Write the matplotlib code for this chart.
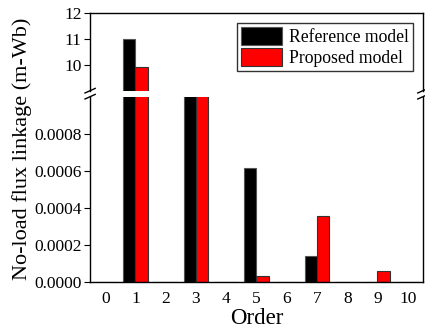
import matplotlib.pyplot as plt
import numpy as np

plt.rcParams['font.family'] = ['Liberation Serif', 'DejaVu Serif']

# harmonic orders and no-load flux linkage (m-Wb)
orders = [0, 1, 2, 3, 4, 5, 6, 7, 8, 9, 10]
reference = [0.0, 11.0, 0.0, 0.0015, 0.0, 0.000617, 0.0, 0.00014, 0.0, 0.000003, 0.0]
proposed = [0.0, 9.9, 0.0, 0.0015, 0.0, 0.000034, 0.0, 0.000356, 0.0, 0.000062, 0.0]
legend_labels = ['Reference model', 'Proposed model']

fig = plt.figure(figsize=(4.25, 3.28), dpi=100)
ax_top = fig.add_axes([0.212, 0.7235, 0.783, 0.236])
ax_bot = fig.add_axes([0.212, 0.1393, 0.783, 0.5659])

x = np.array(orders)
w = 0.4
for ax in (ax_top, ax_bot):
    ax.bar(x - w / 2, reference, w, color='black', edgecolor='#555555', linewidth=0.8,
           label=legend_labels[0])
    ax.bar(x + w / 2, proposed, w, color='red', edgecolor='#333333', linewidth=0.8,
           label=legend_labels[1])
    ax.set_xlim(-0.5, 10.5)
    for s in ax.spines.values():
        s.set_linewidth(1.0)

# upper part of the broken axis
ax_top.set_ylim(9.0, 12.0)
ax_top.set_yticks([10, 11, 12])
ax_top.spines['bottom'].set_visible(False)
ax_top.tick_params(axis='x', bottom=False, labelbottom=False)
ax_top.tick_params(axis='y', direction='out', length=4, pad=2, labelsize=12.5)

# lower part
ax_bot.set_ylim(0, 0.001)
ax_bot.set_yticks([0, 0.0002, 0.0004, 0.0006, 0.0008])
ax_bot.set_yticklabels(['0.0000', '0.0002', '0.0004', '0.0006', '0.0008'])
ax_bot.spines['top'].set_visible(False)
ax_bot.set_xticks(orders)
ax_bot.tick_params(axis='x', length=0, labelsize=12.5, pad=6)
ax_bot.tick_params(axis='y', direction='out', length=4, pad=2, labelsize=12.5)
ax_bot.set_xlabel('Order', fontsize=16.5, labelpad=1)

fig.text(0.053, 0.545, 'No-load flux linkage (m-Wb)', rotation=90,
         ha='center', va='center', fontsize=16)

# break marks on both spines
for xf in (0.212, 0.995):
    for yf in (0.7235, 0.7052):
        fig.add_artist(plt.Line2D([xf - 0.012, xf + 0.012], [yf - 0.007, yf + 0.007],
                                  color='black', linewidth=1.0))

leg = ax_top.legend(loc='upper right', fontsize=12.7, frameon=True, fancybox=False,
                    edgecolor='black', handlelength=2.3, handleheight=1.15,
                    borderpad=0.25, labelspacing=0.12, handletextpad=0.4,
                    borderaxespad=0.55)
leg.get_frame().set_linewidth(1.0)

fig.savefig('out.png', dpi=100)
